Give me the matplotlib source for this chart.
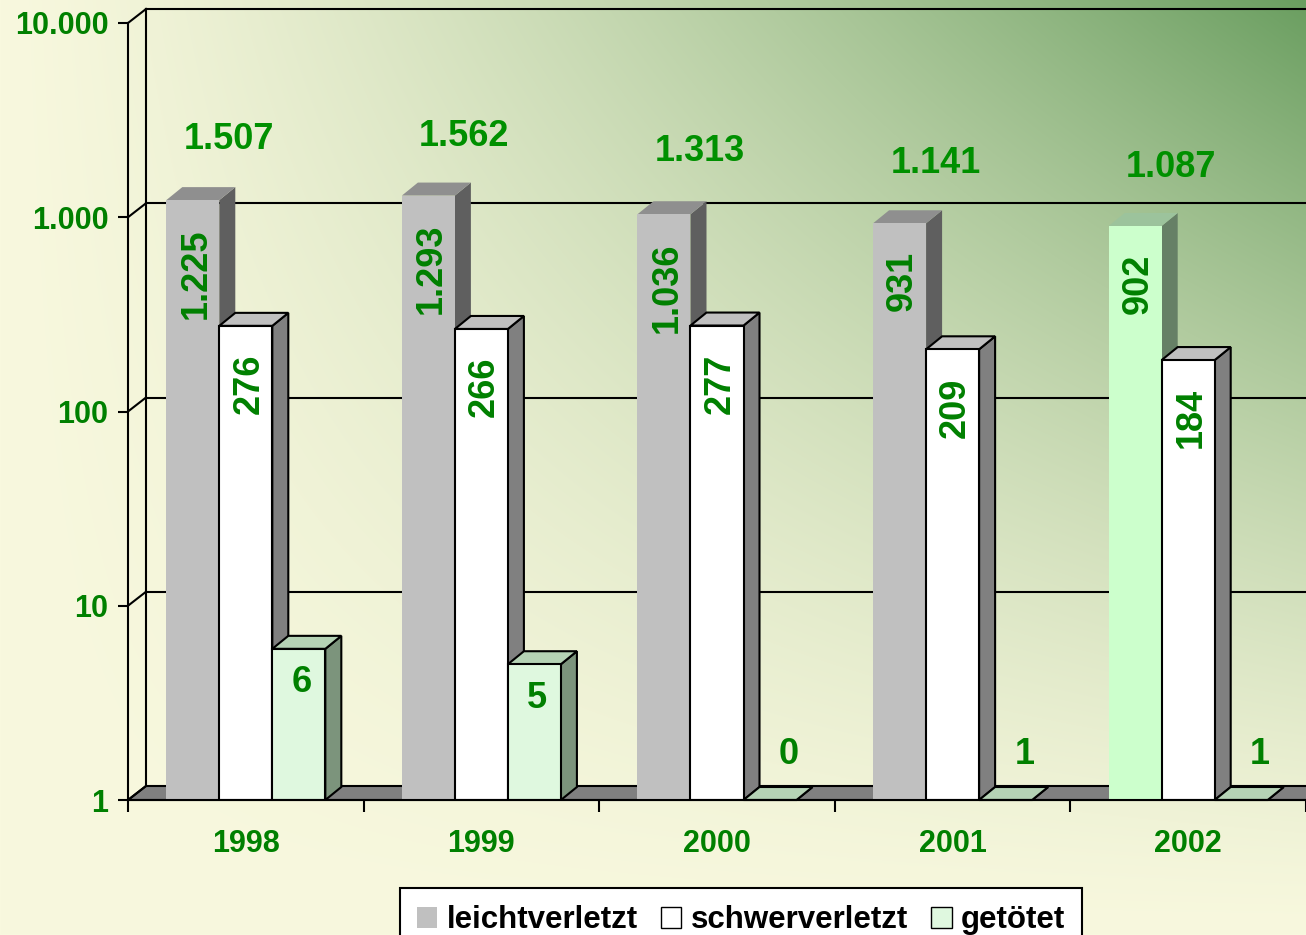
import numpy as np
import matplotlib
matplotlib.use('Agg')
import matplotlib.pyplot as plt
from matplotlib.patches import Polygon, Patch
from matplotlib.lines import Line2D
from matplotlib.transforms import IdentityTransform
from matplotlib.ticker import NullLocator

plt.rcParams['font.family'] = ['Liberation Sans', 'DejaVu Sans']
plt.rcParams['font.weight'] = 'bold'

# data
years = ['1998', '1999', '2000', '2001', '2002']
leicht = [1225, 1293, 1036, 931, 902]
schwer = [276, 266, 277, 209, 184]
getoetet = [6, 5, 0, 1, 1]
totals = [1507, 1562, 1313, 1141, 1087]
series_names = ['leichtverletzt', 'schwerverletzt', 'getötet']
y_ticks = [1, 10, 100, 1000, 10000]
y_labels = ['1', '10', '100', '1.000', '10.000']


def de_num(v):
    return f'{v:,}'.replace(',', '.')


W, H = 1306, 935
GREEN_TXT = '#008000'
fig = plt.figure(figsize=(W / 100, H / 100), dpi=100)

# background gradient (cream -> green towards upper right)
bg = fig.add_axes([0, 0, 1, 1], zorder=-10)
yy, xx = np.mgrid[0:H, 0:W]
t = (xx / (W - 1)) ** 1.3 * (1 - yy / (H - 1)) ** 1.3
cream = np.array([248, 248, 222]) / 255
green = np.array([106, 158, 96]) / 255
img = cream[None, None, :] * (1 - t[..., None]) + green[None, None, :] * t[..., None]
bg.imshow(img, extent=(0, 1, 0, 1), aspect='auto', origin='upper')
bg.axis('off')

# main axes (front plane)
ax = fig.add_axes([128 / W, 135 / H, 1178 / W, 777 / H])
ax.patch.set_visible(False)
ax.set_yscale('log')
ax.set_ylim(1, 10000)
ax.set_xlim(-0.5, 4.5)
ax.set_autoscale_on(False)
for s in ['top', 'right']:
    ax.spines[s].set_visible(False)
for s in ['left', 'bottom']:
    ax.spines[s].set_linewidth(1.5)
    ax.spines[s].set_zorder(20)

ax.set_yticks(y_ticks, y_labels)
ax.yaxis.set_minor_locator(NullLocator())
ax.tick_params(axis='y', length=7.2, width=1.5, pad=7, labelsize=22, labelcolor=GREEN_TXT)
ax.set_xticks(np.arange(-0.5, 5, 1), [''] * 6)
ax.set_xticks(range(len(years)), years, minor=True)
ax.tick_params(axis='x', which='major', length=8.6, width=1.5)
ax.tick_params(axis='x', which='minor', length=0, pad=21, labelsize=22, labelcolor=GREEN_TXT)

WALL = (18, 14)   # depth offset of walls in pixels
BAR = (16, 13)    # depth offset of bars in pixels
IDT = IdentityTransform()


def pts(seq, d):
    out = []
    for x, y, back in seq:
        px, py = ax.transData.transform((x, y))
        out.append((px + back * d[0], py + back * d[1]))
    return out


def poly(seq, d, fc, ec, lw, z):
    p = Polygon(pts(seq, d), closed=True, facecolor=fc, edgecolor=ec, linewidth=lw,
                transform=IDT, clip_on=False, zorder=z)
    ax.add_patch(p)


def line(seq, d, z=1):
    p = pts(seq, d)
    ax.add_line(Line2D([a[0] for a in p], [a[1] for a in p], color='black', lw=1.5,
                       transform=IDT, clip_on=False, zorder=z))


x_left, x_right = -0.5, 4.8

# floor
poly([(x_left, 1, 0), (x_right, 1, 0), (x_right, 1, 1), (x_left, 1, 1)], WALL,
     '#808080', 'black', 1.5, 1)
# back wall, side wall connectors
line([(x_left, 1, 1), (x_left, 10000, 1)], WALL)
for v in y_ticks:
    line([(x_left, v, 0), (x_left, v, 1)], WALL)
    if v > 1:
        line([(x_left, v, 1), (x_right, v, 1)], WALL)

# bars
series = [leicht, schwer, getoetet]
face = ['#C0C0C0', '#FFFFFF', '#DFF8DF']
side = ['#5F5F5F', '#808080', '#7C947C']
top = ['#8F8F8F', '#C0C0C0', '#B5D3B5']
edge = ['none', 'black', 'black']
hl_face, hl_side, hl_top = '#CCFFCC', '#668066', '#9CC39C'
highlight = (4, 0)
w = 0.225

z = 3
for i in range(len(years)):
    for j, vals in enumerate(series):
        v = max(vals[i], 1)
        xc = i + (j - 1) * w
        x0, x1 = xc - w / 2, xc + w / 2
        fc, sc, tc = face[j], side[j], top[j]
        if (i, j) == highlight:
            fc, sc, tc = hl_face, hl_side, hl_top
        lw = 0 if edge[j] == 'none' else 1.5
        poly([(x1, 1, 0), (x1, v, 0), (x1, v, 1), (x1, 1, 1)], BAR, sc, edge[j], lw, z)
        poly([(x0, v, 0), (x1, v, 0), (x1, v, 1), (x0, v, 1)], BAR, tc, edge[j], lw, z)
        ax.bar(xc, v - 1, bottom=1, width=w, color=fc, edgecolor=edge[j], linewidth=lw,
               zorder=z + 0.5)
        z += 1

        # value labels
        if j < 2:
            ax.annotate(de_num(vals[i]), (xc, v), xytext=(3, -28), textcoords='offset pixels',
                        rotation=90, ha='center', va='top', fontsize=26,
                        color=GREEN_TXT, zorder=200)
        elif vals[i] > 1:
            ax.annotate(de_num(vals[i]), (xc, v), xytext=(3, -34), textcoords='offset pixels',
                        ha='center', va='center', fontsize=26, color=GREEN_TXT, zorder=200)
        else:
            ax.annotate(de_num(vals[i]), (xc, v), xytext=(19, 46), textcoords='offset pixels',
                        ha='center', va='center', fontsize=26, color=GREEN_TXT, zorder=200)

    ax.annotate(de_num(totals[i]), (i, totals[i]), xytext=(-17, 43), textcoords='offset pixels',
                ha='center', va='center', fontsize=26, color='#009000', zorder=200,
                annotation_clip=False)

handles = [Patch(facecolor=face[0], edgecolor='none'),
           Patch(facecolor=face[1], edgecolor='black', linewidth=1),
           Patch(facecolor=face[2], edgecolor='black', linewidth=1)]
leg = fig.legend(handles, series_names, loc='upper center', bbox_to_anchor=(741 / W, 1 - 888 / H),
                 ncol=3, frameon=True, fancybox=False, edgecolor='black', facecolor='white',
                 framealpha=1, fontsize=22.5, handlelength=0.65, handleheight=0.65,
                 handletextpad=0.3, columnspacing=0.75, borderpad=0.55, borderaxespad=0)
leg.get_frame().set_linewidth(1.5)

fig.savefig('out.png', dpi=100)
